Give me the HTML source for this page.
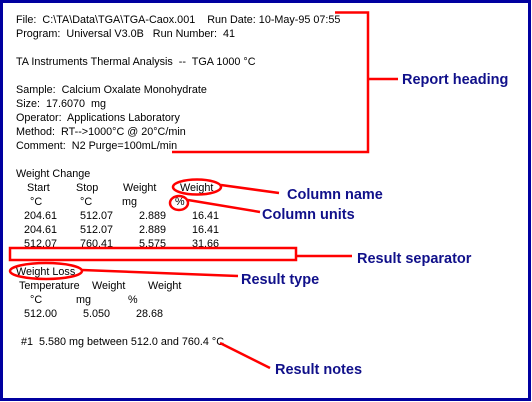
<!DOCTYPE html>
<html><head><meta charset="utf-8"><style>
html,body{margin:0;padding:0;background:#fff;}
svg{display:block;}
.t{font-family:"Liberation Sans",Arial,sans-serif;font-size:10.8px;fill:#000;}
.l{font-family:"Liberation Sans",Arial,sans-serif;font-size:14.5px;font-weight:bold;fill:#10108a;}
</style></head><body>
<svg width="532" height="402" viewBox="0 0 532 402" xmlns="http://www.w3.org/2000/svg">
<rect x="1.5" y="1.5" width="528" height="398" fill="#fff" stroke="#0000a0" stroke-width="3"/>
<g class="t">
<text x="16" y="23">File:&#160; C:\TA\Data\TGA\TGA-Caox.001&#160;&#160;&#160; Run Date: 10-May-95 07:55</text>
<text x="16" y="37">Program:&#160; Universal V3.0B&#160;&#160; Run Number:&#160; 41</text>
<text x="16" y="65">TA Instruments Thermal Analysis&#160; --&#160; TGA 1000 °C</text>
<text x="16" y="93">Sample:&#160; Calcium Oxalate Monohydrate</text>
<text x="16" y="107">Size:&#160; 17.6070&#160; mg</text>
<text x="16" y="121">Operator:&#160; Applications Laboratory</text>
<text x="16" y="135">Method:&#160; RT--&gt;1000°C @ 20°C/min</text>
<text x="16" y="149">Comment:&#160; N2 Purge=100mL/min</text>
<text x="16" y="177">Weight Change</text>
<text x="27" y="191">Start</text><text x="76" y="191">Stop</text><text x="123" y="191">Weight</text><text x="180" y="191">Weight</text>
<text x="30" y="205">°C</text><text x="80" y="205">°C</text><text x="122" y="205">mg</text><text x="175" y="205">%</text>
<text x="24" y="219">204.61</text><text x="80" y="219">512.07</text><text x="139" y="219">2.889</text><text x="192" y="219">16.41</text>
<text x="24" y="233">204.61</text><text x="80" y="233">512.07</text><text x="139" y="233">2.889</text><text x="192" y="233">16.41</text>
<text x="24" y="247">512.07</text><text x="80" y="247">760.41</text><text x="139" y="247">5.575</text><text x="192" y="247">31.66</text>
<text x="16" y="275">Weight Loss</text>
<text x="19" y="289">Temperature</text><text x="92" y="289">Weight</text><text x="148" y="289">Weight</text>
<text x="30" y="303">°C</text><text x="76" y="303">mg</text><text x="128" y="303">%</text>
<text x="24" y="317">512.00</text><text x="83" y="317">5.050</text><text x="136" y="317">28.68</text>
<text x="21" y="345">#1&#160; 5.580 mg between 512.0 and 760.4 °C</text>
</g>
<g stroke="#ff0000" stroke-width="2.5" fill="none">
<polyline points="335,12.5 368,12.5 368,152 172,152"/>
<line x1="368" y1="79" x2="398" y2="79"/>
<ellipse cx="197" cy="187" rx="24" ry="7.5"/>
<line x1="221" y1="185" x2="279" y2="193"/>
<ellipse cx="179" cy="203" rx="9" ry="7"/>
<line x1="188" y1="200" x2="260" y2="212"/>
<rect x="10" y="248" width="286" height="12"/>
<line x1="296" y1="256" x2="352" y2="256"/>
<ellipse cx="46" cy="271" rx="36" ry="8"/>
<line x1="82" y1="270" x2="238" y2="276"/>
<line x1="220" y1="343" x2="270" y2="368"/>
</g>
<g class="l">
<text x="402" y="84">Report heading</text>
<text x="287" y="199">Column name</text>
<text x="262" y="219">Column units</text>
<text x="357" y="263">Result separator</text>
<text x="241" y="284">Result type</text>
<text x="275" y="374">Result notes</text>
</g>
</svg>
</body></html>
